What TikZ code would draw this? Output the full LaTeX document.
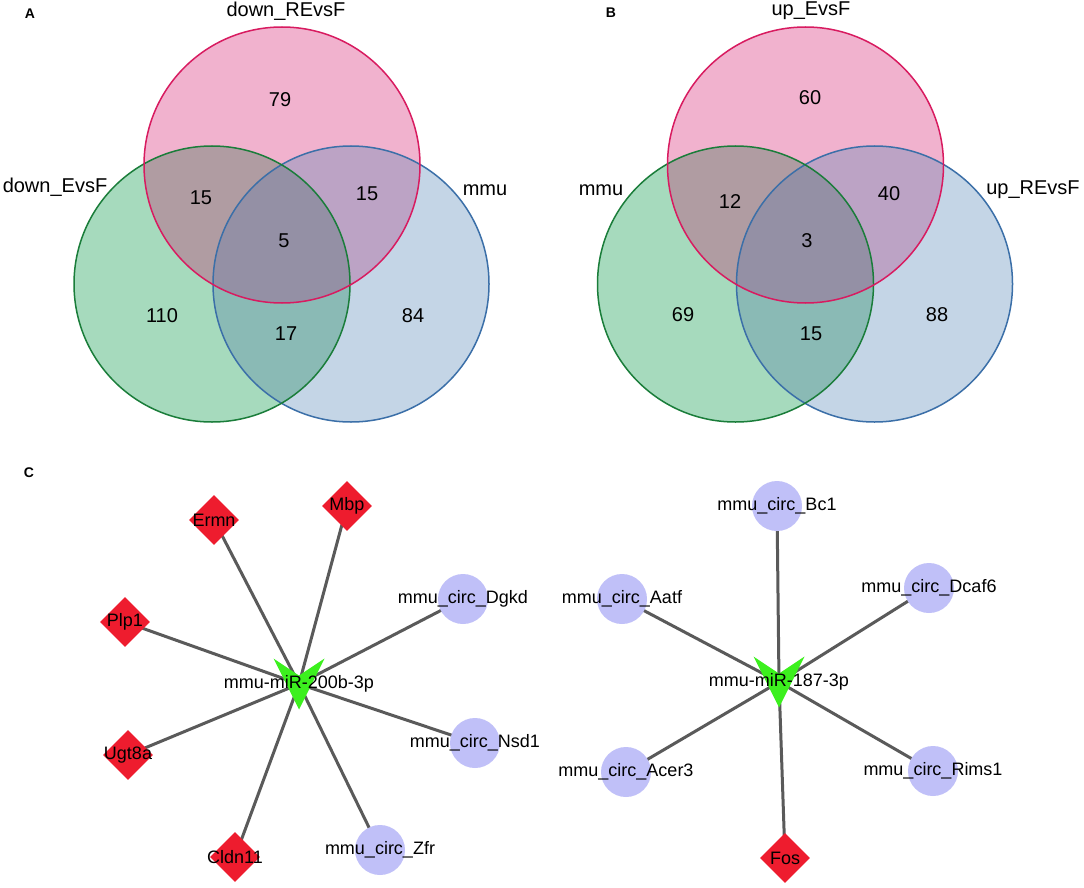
\documentclass[tikz,border=0pt]{standalone}
\usepackage{fontspec}
\setmainfont{Liberation Sans}
\usetikzlibrary{shapes.geometric,backgrounds}
\definecolor{pinkO}{HTML}{F1B2CE}
\definecolor{greenO}{HTML}{A6DABD}
\definecolor{blueO}{HTML}{C4D5E6}
\definecolor{PGc}{HTML}{B09CA2}
\definecolor{PBc}{HTML}{BCA3C5}
\definecolor{GBc}{HTML}{8ABAB5}
\definecolor{CCc}{HTML}{9490A5}
\definecolor{pinkL}{HTML}{D81B60}
\definecolor{greenL}{HTML}{1A7D3A}
\definecolor{blueL}{HTML}{3B6FA8}
\definecolor{genered}{HTML}{EE1C2E}
\definecolor{circblue}{HTML}{C0C0F8}
\definecolor{hubgreen}{HTML}{3CF01E}
\definecolor{edgegray}{HTML}{5A5A5A}
\newcommand{\venncircles}{%
  \fill[pinkO] (282,165) circle[radius=138pt];
  \fill[greenO] (212,284) circle[radius=138pt];
  \fill[blueO] (351,284) circle[radius=138pt];
  \begin{scope}
    \clip (282,165) circle[radius=138pt];
    \fill[PGc] (212,284) circle[radius=138pt];
    \fill[PBc] (351,284) circle[radius=138pt];
  \end{scope}
  \begin{scope}
    \clip (212,284) circle[radius=138pt];
    \fill[GBc] (351,284) circle[radius=138pt];
    \clip (282,165) circle[radius=138pt];
    \fill[CCc] (351,284) circle[radius=138pt];
  \end{scope}
  \draw[blueL, line width=1.5pt] (351,284) circle[radius=138pt];
  \draw[greenL, line width=1.5pt] (212,284) circle[radius=138pt];
  \draw[pinkL, line width=1.5pt] (282,165) circle[radius=138pt];
}
\tikzset{
  vlab/.style={font=\fontsize{20}{22}\selectfont, inner sep=0pt},
  panel/.style={font=\bfseries\fontsize{14}{16}\selectfont, inner sep=0pt},
  lab/.style={font=\fontsize{18}{20}\selectfont, inner sep=0pt},
  gene/.style={diamond, aspect=1, fill=genered, minimum width=50pt, minimum height=50pt, inner sep=0pt},
  circnode/.style={circle, fill=circblue, minimum size=50pt, inner sep=0pt},
  edge/.style={draw=edgegray, line width=3pt}
}
\begin{document}
\begin{tikzpicture}[x=1pt,y=-1pt]
\useasboundingbox (0,0) rectangle (1084,888);
\begin{scope}[on background layer]
  \fill[white] (0,0) rectangle (1084,888);
\end{scope}
% Panel A
\venncircles
\node[panel] (la) at (30,14) {A};
\node[vlab] (a1) at (286,11) {down\_REvsF};
\node[vlab] (a2) at (55,187) {down\_EvsF};
\node[vlab] (a3) at (485,190) {mmu};
\node[vlab] (an1) at (280,100) {79};
\node[vlab] (an2) at (201,198) {15};
\node[vlab] (an3) at (367,194) {15};
\node[vlab] (an4) at (284,241) {5};
\node[vlab] (an5) at (162,316) {110};
\node[vlab] (an6) at (286,334) {17};
\node[vlab] (an7) at (413,316) {84};
% Panel B
\begin{scope}[xshift=523.5pt]
\venncircles
\end{scope}
\node[panel] (lb) at (611,13) {B};
\node[vlab] (b1) at (811,11) {up\_EvsF};
\node[vlab] (b2) at (601,190) {mmu};
\node[vlab] (b3) at (1033,190) {up\_REvsF};
\node[vlab] (bn1) at (810,98) {60};
\node[vlab] (bn2) at (730,202) {12};
\node[vlab] (bn3) at (889,194) {40};
\node[vlab] (bn4) at (807,241) {3};
\node[vlab] (bn5) at (683,315) {69};
\node[vlab] (bn6) at (811,334) {15};
\node[vlab] (bn7) at (937,315) {88};
% Panel C
\node[panel] (lc) at (29,473) {C};
% left network
\node[gene, label={[lab]center:Mbp}] (mbp) at (347,506) {};
\node[gene, label={[lab]center:Ermn}] (ermn) at (214,520) {};
\node[gene, label={[lab]center:Plp1}] (plp1) at (125,622) {};
\node[gene, label={[lab]center:Ugt8a}] (ugt8a) at (128,755) {};
\node[gene, label={[lab]center:Cldn11}] (cldn11) at (235,857) {};
\node[circnode, label={[lab]center:mmu\_circ\_Dgkd}] (dgkd) at (463,599) {};
\node[circnode, label={[lab]center:mmu\_circ\_Nsd1}] (nsd1) at (475,743) {};
\node[circnode, label={[lab]center:mmu\_circ\_Zfr}] (zfr) at (380,850) {};
\fill[hubgreen] (273.5,658.5) -- (299,675.5) -- (324.5,658.5) -- (299,709.5) -- cycle;
\node[lab] (h1) at (299,684) {mmu-miR-200b-3p};
% right network
\node[circnode, label={[lab]center:mmu\_circ\_Bc1}] (bc1) at (777,506) {};
\node[circnode, label={[lab]center:mmu\_circ\_Aatf}] (aatf) at (622,599) {};
\node[circnode, label={[lab]center:mmu\_circ\_Dcaf6}] (dcaf6) at (929,588) {};
\node[circnode, label={[lab]center:mmu\_circ\_Acer3}] (acer3) at (626,772) {};
\node[circnode, label={[lab]center:mmu\_circ\_Rims1}] (rims1) at (933,771) {};
\node[gene, label={[lab]center:Fos}] (fos) at (785,858) {};
\fill[hubgreen] (753.5,656.5) -- (779,673.5) -- (804.5,656.5) -- (779,707.5) -- cycle;
\node[lab] (h2) at (779,682) {mmu-miR-187-3p};
% edges
\begin{scope}[on background layer]
  \foreach \n in {mbp,ermn,plp1,ugt8a,cldn11,dgkd,nsd1,zfr}
    \draw[edge] (h1.center) -- (\n.center);
  \foreach \n in {bc1,aatf,dcaf6,acer3,rims1,fos}
    \draw[edge] (h2.center) -- (\n.center);
\end{scope}
\end{tikzpicture}
\end{document}
